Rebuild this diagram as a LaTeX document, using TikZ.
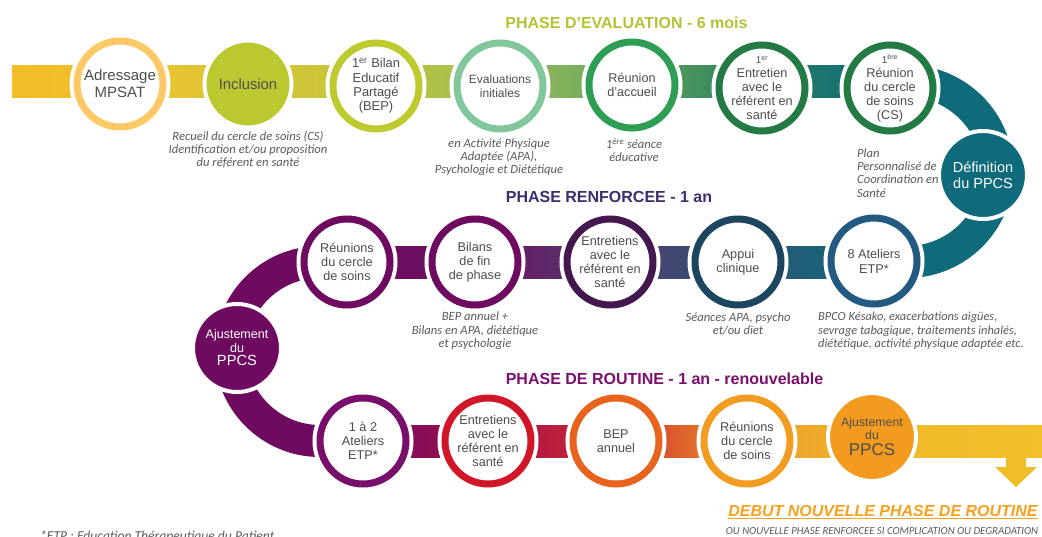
\documentclass[tikz,border=0pt]{standalone}
\usepackage{fontspec}
\setmainfont{Liberation Sans}
\newfontfamily\annot{Carlito}
\newcommand\myfs[2]{\fontsize{#1}{#2}\selectfont}
\definecolor{tgrey}{HTML}{4D4D4D}
\definecolor{agrey}{HTML}{5A5A5A}
\definecolor{cAdr}{HTML}{FDC865}
\definecolor{cInc}{HTML}{BCC82F}
\definecolor{cBil}{HTML}{BFCA2E}
\definecolor{cEva}{HTML}{80C79B}
\definecolor{cReu}{HTML}{2E9E55}
\definecolor{cDkg}{HTML}{237A45}
\definecolor{cTeal}{HTML}{0F6B7B}
\definecolor{cPur}{HTML}{6E0A60}
\definecolor{cDpur}{HTML}{45174F}
\definecolor{cApp}{HTML}{1C4560}
\definecolor{cAte}{HTML}{225A82}
\definecolor{cPtwo}{HTML}{780F6B}
\definecolor{cRed}{HTML}{D01628}
\definecolor{cOr}{HTML}{E8641E}
\definecolor{cOrtwo}{HTML}{F39C22}
\definecolor{cAjr}{HTML}{F29B1F}
\definecolor{tEval}{HTML}{B4C335}
\definecolor{tRenf}{HTML}{3E2D6E}
\definecolor{tRout}{HTML}{7B0F6E}
\definecolor{cDebut}{HTML}{F5A21F}
\definecolor{cArrow}{HTML}{F1BE2A}
% band stops
\definecolor{bA}{HTML}{F2BD26}
\definecolor{bB}{HTML}{EDC12E}
\definecolor{bC}{HTML}{DCC536}
\definecolor{bD}{HTML}{BEC63A}
\definecolor{bE}{HTML}{9EBC5A}
\definecolor{bF}{HTML}{62A55C}
\definecolor{bG}{HTML}{267C62}
\definecolor{bH}{HTML}{0F6B7A}
\definecolor{mA}{HTML}{6E0A60}
\definecolor{mB}{HTML}{6C1262}
\definecolor{mC}{HTML}{553A6E}
\definecolor{mD}{HTML}{2A5574}
\definecolor{mE}{HTML}{15687B}
\definecolor{rA}{HTML}{730B60}
\definecolor{rB}{HTML}{A3104A}
\definecolor{rC}{HTML}{CF2C30}
\definecolor{rD}{HTML}{EC9A2A}
\definecolor{rE}{HTML}{F0B82A}
\definecolor{rF}{HTML}{F2C02B}
\begin{document}
\begin{tikzpicture}[x=1pt,y=-1pt,
  ring/.style={circle, draw=#1, line width=7pt, fill=white, minimum size=86pt, inner sep=0pt,
    preaction={draw=white, line width=15pt}},
  disc/.style={circle, fill=#1, draw=white, line width=4pt, minimum size=88pt, inner sep=0pt},
  ctext/.style={align=center, text=tgrey, inner sep=0pt, font=\myfs{12.7}{14}},
  wtext/.style={align=center, text=white, inner sep=0pt},
  ann/.style={align=center, text=agrey, inner sep=0pt, font=\annot\itshape\myfs{12.6}{12.9}},
  title/.style={inner sep=0pt, font=\bfseries\myfs{16}{18}}
]
\useasboundingbox (0,0) rectangle (1042,536);
\clip (0,0) rectangle (1042,536);
% ---------- top band ----------
\shade[left color=bA, right color=bB] (12,65) rectangle (120.5,97);
\shade[left color=bB, right color=bC] (120,65) rectangle (248.5,97);
\shade[left color=bC, right color=bD] (248,65) rectangle (375.5,97);
\shade[left color=bD, right color=bE] (375,65) rectangle (500.5,97);
\shade[left color=bE, right color=bF] (500,65) rectangle (632.5,97);
\shade[left color=bF, right color=bG] (632,65) rectangle (762.5,97);
\shade[left color=bG, right color=bH] (762,65) rectangle (890.5,97);
\fill[bH] (890,65) rectangle (907.5,97);
% right arc
\begin{scope}
\clip (907,50) rectangle (1042,300);
\fill[bH, even odd rule] (907,171.5) circle[radius=106.5] (907,171.5) circle[radius=74.5];
\end{scope}
% ---------- middle band ----------
\fill[bH] (874,246) rectangle (907.5,278);
\shade[left color=mD, right color=mE] (738,246) rectangle (874.5,278);
\shade[left color=mC, right color=mD] (610,246) rectangle (738.5,278);
\shade[left color=mB, right color=mC] (475,246) rectangle (610.5,278);
\shade[left color=mA, right color=mB] (320,246) rectangle (475.5,278);
% left arc
\begin{scope}
\clip (150,230) rectangle (320.5,470);
\fill[mA, even odd rule] (320,351.5) circle[radius=105.5] (320,351.5) circle[radius=73.5];
\end{scope}
% ---------- bottom band ----------
\shade[left color=mA, right color=rA] (319.5,425) rectangle (363.5,457);
\shade[left color=rA, right color=rB] (363,425) rectangle (488.5,457);
\shade[left color=rB, right color=rC] (488,425) rectangle (616.5,457);
\shade[left color=rC, right color=rD] (616,425) rectangle (747.5,457);
\shade[left color=rD, right color=rE] (747,425) rectangle (872.5,457);
\shade[left color=rE, right color=rF] (872,425) rectangle (1042,457);
% arrow
\fill[cArrow] (1006,456) -- (1026,456) -- (1026,467) -- (1037,467) -- (1016,487) -- (995,467) -- (1006,467) -- cycle;
% ---------- titles ----------
\node[title, text=tEval] (t1) at (626.5,22.5) {PHASE D’EVALUATION - 6 mois};
\node[title, text=tRenf] (t2) at (609,196.5) {PHASE RENFORCEE - 1 an};
\node[title, text=tRout] (t3) at (664.5,379) {PHASE DE ROUTINE - 1 an - renouvelable};
% ---------- top row ----------
\node[ring=cAdr] (adr) at (120,84) {};
\node[ctext, font=\myfs{15}{17}] at (adr) {Adressage\\MPSAT};
\node[disc=cInc, minimum size=87pt] (inc) at (248,84) {};
\node[ctext, font=\myfs{14.8}{17}] at (inc) {Inclusion};
\node[ring=cBil] (bil) at (376,86) {};
\node[ctext, font=\myfs{12.9}{14.3}] at (bil) {1\textsuperscript{er} Bilan\\Educatif\\Partagé\\(BEP)};
\node[ring=cEva] (eva) at (500,86) {};
\node[ctext, font=\myfs{12}{13.5}] at (eva) {Evaluations\\initiales};
\node[ring=cReu] (reu) at (632,85) {};
\node[ctext, font=\myfs{12.7}{14.3}] at (reu) {Réunion\\d’accueil};
\node[ring=cDkg] (ent) at (762,88) {};
\node[ctext] at (ent) {{\myfs{10}{12}1\textsuperscript{er}}\\Entretien\\avec le\\référent en\\santé};
\node[ring=cDkg] (rcs) at (890,88) {};
\node[ctext] at (rcs) {{\myfs{10}{12}1\textsuperscript{ère}}\\Réunion\\du cercle\\de soins\\(CS)};
\node[disc=cTeal] (def) at (983,175) {};
\node[wtext, font=\myfs{14.5}{16.5}] at (def) {Définition\\du PPCS};
% ---------- middle row ----------
\node[ring=cPur] (rcm) at (347,262) {};
\node[ctext] at (rcm) {Réunions\\du cercle\\de soins};
\node[ring=cPur] (bfp) at (475,262) {};
\node[ctext] at (bfp) {Bilans\\de fin\\de phase};
\node[ring=cDpur] (erm) at (610,262) {};
\node[ctext] at (erm) {Entretiens\\avec le\\référent en\\santé};
\node[ring=cApp] (app) at (738,262) {};
\node[ctext, font=\myfs{12.7}{14.5}] at (app) {Appui\\clinique};
\node[ring=cAte] (ate) at (874,261) {};
\node[ctext, font=\myfs{12.7}{15}] at (ate) {8 Ateliers\\ETP*};
\node[disc=cPur] (ajl) at (237,348) {};
\node[wtext, font=\myfs{12.5}{13.5}] at (ajl) {Ajustement\\du\\{\myfs{14.7}{15}PPCS}};
% ---------- bottom row ----------
\node[ring=cPtwo] (a12) at (363,441) {};
\node[ctext] at (a12) {1 à 2\\Ateliers\\ETP*};
\node[ring=cRed] (erb) at (488,441) {};
\node[ctext] at (erb) {Entretiens\\avec le\\référent en\\santé};
\node[ring=cOr] (bep) at (616,441) {};
\node[ctext] at (bep) {BEP\\annuel};
\node[ring=cOrtwo] (rcb) at (747,441) {};
\node[ctext] at (rcb) {Réunions\\du cercle\\de soins};
\node[disc=cAjr] (ajr) at (872,437) {};
\node[ctext, font=\myfs{12.3}{13}] at (ajr) {Ajustement\\du\\[3pt]{\myfs{17}{17}PPCS}};
% ---------- annotations ----------
\node[ann] (n1) at (248,149.5) {Recueil du cercle de soins (CS)\\Identification et/ou proposition\\du référent en santé};
\node[ann] (n2) at (499,157) {en Activité Physique\\Adaptée (APA),\\Psychologie et Diététique};
\node[ann] (n3) at (634,150) {1\textsuperscript{ère} séance\\éducative};
\node[ann, align=left, anchor=west, font=\annot\itshape\myfs{12.6}{13.3}] (n4) at (857,173) {Plan\\Personnalisé de\\Coordination en\\Santé};
\node[ann, font=\annot\itshape\myfs{12.6}{13.3}] (n5) at (475,331) {BEP annuel +\\Bilans en APA, diététique\\et psychologie};
\node[ann, font=\annot\itshape\myfs{12.6}{13.5}] (n6) at (738,324) {Séances APA, psycho\\et/ou diet};
\node[ann, align=left, anchor=west, font=\annot\itshape\myfs{12.4}{13.5}] (n7) at (818,331) {BPCO Késako, exacerbations aigües,\\sevrage tabagique, traitements inhalés,\\diététique, activité physique adaptée etc.};
% ---------- footer ----------
\node[inner sep=0pt, text=cDebut, font=\bfseries\itshape\myfs{16}{18}] (deb) at (883,512) {\underline{DEBUT NOUVELLE PHASE DE ROUTINE}};
\node[inner sep=0pt, text=agrey, font=\annot\itshape\myfs{10.8}{12}] (ou) at (882,531) {OU NOUVELLE PHASE RENFORCEE SI COMPLICATION OU DEGRADATION};
\node[inner sep=0pt, anchor=base west, text=agrey, font=\annot\itshape\myfs{13.6}{14}] (etp) at (40,540) {*ETP : Education Thérapeutique du Patient};
\end{tikzpicture}
\end{document}
